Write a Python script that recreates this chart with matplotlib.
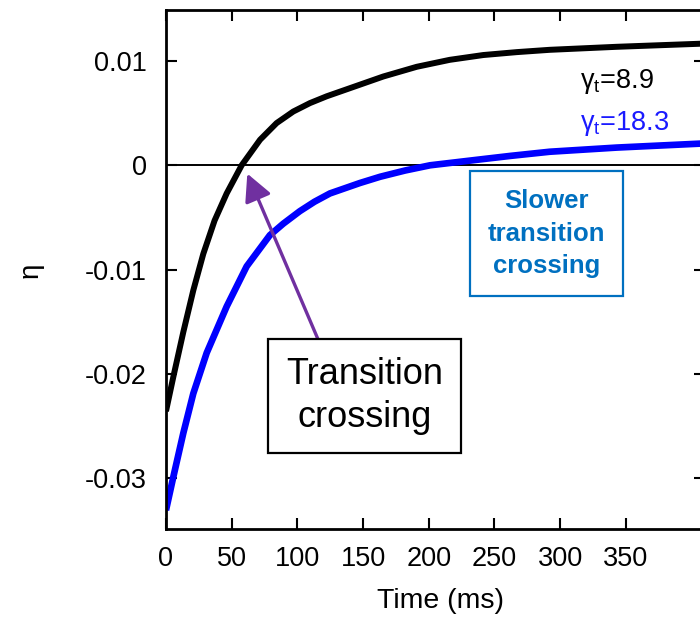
import matplotlib.pyplot as plt

plt.rcParams['font.family'] = ['Liberation Sans', 'DejaVu Sans']
plt.rcParams['mathtext.fontset'] = 'custom'
plt.rcParams['mathtext.rm'] = 'Liberation Sans'

# curves (time in ms, eta)
t_black = [0, 5.6, 13.2, 20.8, 28.4, 37, 46.2, 57.6, 71.6, 84.2, 96.9, 109.6, 122.3, 140,
           165.4, 190.8, 216, 241.5, 267, 292, 343, 410]
eta_black = [-0.0236, -0.0203, -0.0160, -0.0120, -0.0085, -0.0053, -0.0027, 0.0, 0.00245, 0.00405,
             0.00516, 0.00597, 0.00662, 0.0074, 0.00852, 0.00945, 0.01012, 0.01058, 0.01086,
             0.01108, 0.01137, 0.01168]

t_blue = [0, 5.6, 13.2, 20.8, 31, 46.2, 61.4, 79.1, 89.3, 101.9, 113, 124.8, 147.6, 163,
          182, 201, 241.5, 262, 292, 343, 410]
eta_blue = [-0.0331, -0.0299, -0.0257, -0.0219, -0.0180, -0.01355, -0.0097, -0.0067, -0.0056,
            -0.0044, -0.0035, -0.0027, -0.0017, -0.0011, -0.0005, 0.0, 0.0006, 0.0009,
            0.0013, 0.0017, 0.0021]

x_ticks = [0, 50, 100, 150, 200, 250, 300, 350]
y_ticks = [-0.03, -0.02, -0.01, 0, 0.01]
y_tick_labels = ['-0.03', '-0.02', '-0.01', '0', '0.01']

fig = plt.figure(figsize=(7, 6.18), dpi=100)
ax = fig.add_axes([0.2371, 0.144, 0.7696, 0.8398])

ax.axhline(0, color='black', lw=1.4)
ax.plot(t_black, eta_black, color='black', lw=4.3, solid_capstyle='butt', solid_joinstyle='round')
ax.plot(t_blue, eta_blue, color='#0000ff', lw=4.8, solid_capstyle='butt', solid_joinstyle='round')

ax.set_xlim(0, 410)
ax.set_ylim(-0.0349, 0.0149)
ax.set_xticks(x_ticks)
ax.set_xticklabels([str(v) for v in x_ticks])
ax.set_yticks(y_ticks)
ax.set_yticklabels(y_tick_labels)
ax.tick_params(direction='in', length=8, width=1.5, labelsize=19.5, top=True, right=True)
ax.tick_params(axis='y', pad=14)
ax.tick_params(axis='x', pad=12)
for s in ax.spines.values():
    s.set_linewidth(2)

ax.set_xlabel('Time (ms)', fontsize=20.5)
ax.xaxis.set_label_coords(0.509, -0.113)
ax.set_ylabel('η', fontsize=20)
ax.yaxis.set_label_coords(-0.228, 0.499)

# curve labels
ax.text(315, 0.0080, r'γ$_{\rm t}$=8.9', fontsize=19.5, color='black', va='center')
ax.text(315, 0.0040, r'γ$_{\rm t}$=18.3', fontsize=19.5, color='#1a1aff', va='center')

# annotations
ax.annotate('', xy=(61.9, -0.0008), xytext=(115.9, -0.01675),
            arrowprops=dict(arrowstyle='-|>,head_length=0.55,head_width=0.28', color='#7030a0',
                            lw=2.4, mutation_scale=30, shrinkA=0, shrinkB=0))
ax.text(151.4, -0.0221, 'Transition\ncrossing', fontsize=26, ha='center', va='center',
        linespacing=1.3,
        bbox=dict(boxstyle='square,pad=0.5', fc='white', ec='black', lw=1.6))
ax.text(289.6, -0.00657, 'Slower\ntransition\ncrossing', fontsize=18.5, fontweight='bold',
        color='#0070c0', ha='center', va='center', linespacing=1.45,
        bbox=dict(boxstyle='square,pad=0.7', fc='white', ec='#0070c0', lw=1.6))

fig.savefig('out.png', dpi=100)
